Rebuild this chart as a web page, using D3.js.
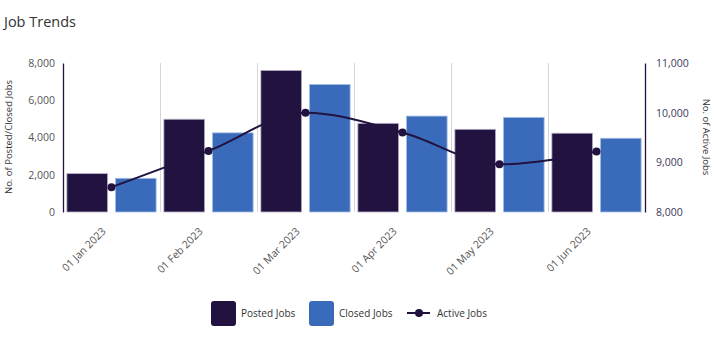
<!DOCTYPE html>
<html><head><meta charset="utf-8">
<script src="https://cdn.jsdelivr.net/npm/d3@7"></script>
<style>body{margin:0;background:#fff;} text{font-family:"Open Sans","Noto Sans",sans-serif;}</style>
</head><body>
<svg id="chart" width="714" height="350"></svg>
<script>
const categories = ["01 Jan 2023","01 Feb 2023","01 Mar 2023","01 Apr 2023","01 May 2023","01 Jun 2023"];
const postedJobs = [2060, 4980, 7600, 4760, 4440, 4230];
const closedJobs = [1810, 4250, 6850, 5150, 5080, 3960];
const activeJobs = [8500, 9230, 10000, 9600, 8960, 9220];
const leftTicks = [0, 2000, 4000, 6000, 8000];
const rightTicks = [8000, 9000, 10000, 11000];

const svg = d3.select("#chart");
const m = {l:63, r:645, t:63, b:212};
const x = d3.scaleBand().domain(categories).range([m.l, m.r]);
const sub = d3.scaleBand().domain(["posted","closed"]).range([0, x.bandwidth()]).paddingInner(0.16).paddingOuter(0.08);
const yL = d3.scaleLinear().domain([0, 8000]).range([m.b, m.t]);
const yR = d3.scaleLinear().domain([8000, 11000]).range([m.b, m.t]);
const cPosted = "#22123F", cClosed = "#3A6BBA";

svg.append("text").attr("x",4).attr("y",27).attr("font-size",14.5).attr("fill","#333").text("Job Trends");

// gridlines between categories
svg.append("g").selectAll("line").data(categories.slice(1)).join("line")
  .attr("x1",d=>x(d)+0.5).attr("x2",d=>x(d)+0.5).attr("y1",m.t).attr("y2",m.b)
  .attr("stroke","#d6d6d6").attr("stroke-width",1);

// bars
const g = svg.append("g");
categories.forEach((c,i)=>{
  g.append("rect").attr("x",x(c)+sub("posted")).attr("width",sub.bandwidth())
    .attr("y",yL(postedJobs[i])).attr("height",yL(0)-yL(postedJobs[i]))
    .attr("fill",cPosted).attr("stroke","#b8aec8").attr("stroke-width",0.8);
  g.append("rect").attr("x",x(c)+sub("closed")).attr("width",sub.bandwidth())
    .attr("y",yL(closedJobs[i])).attr("height",yL(0)-yL(closedJobs[i]))
    .attr("fill",cClosed).attr("stroke","#a9c0e6").attr("stroke-width",0.8);
});

// left axis
const axL = svg.append("g").attr("transform",`translate(${m.l},0)`)
  .call(d3.axisLeft(yL).tickValues(leftTicks).tickFormat(d3.format(",")).tickSize(0).tickPadding(8));
axL.select(".domain").attr("stroke",cPosted).attr("stroke-width",1.3);
axL.selectAll("text").attr("font-size",10.5).attr("fill","#555").attr("font-family","Open Sans, sans-serif");

// right axis
const axR = svg.append("g").attr("transform",`translate(${m.r},0)`)
  .call(d3.axisRight(yR).tickValues(rightTicks).tickFormat(d3.format(",")).tickSize(0).tickPadding(11));
axR.select(".domain").attr("stroke",cPosted).attr("stroke-width",1.3);
axR.selectAll("text").attr("font-size",10.5).attr("fill","#3d3a5c").attr("font-family","Open Sans, sans-serif");

// x axis labels
const axX = svg.append("g").attr("transform",`translate(0,${m.b})`)
  .call(d3.axisBottom(x).tickSize(0).tickPadding(0));
axX.select(".domain").remove();
axX.selectAll("text").attr("font-size",10.5).attr("fill","#555").attr("font-family","Open Sans, sans-serif")
  .attr("text-anchor","end").attr("dy",0)
  .attr("transform","translate(-5,20) rotate(-45)").attr("x",0).attr("y",0);

// axis titles
svg.append("text").attr("transform","translate(12,137) rotate(-90)").attr("text-anchor","middle")
  .attr("font-size",9.5).attr("fill","#333").text("No. of Posted/Closed Jobs");
svg.append("text").attr("transform","translate(703,137) rotate(90)").attr("text-anchor","middle")
  .attr("font-size",9.5).attr("fill","#333").text("No. of Active Jobs");

// line
const line = d3.line().x((d,i)=>x(categories[i])+x.bandwidth()/2).y(d=>yR(d)).curve(d3.curveMonotoneX);
svg.append("path").datum(activeJobs).attr("d",line).attr("fill","none").attr("stroke",cPosted).attr("stroke-width",2);
svg.append("g").selectAll("circle").data(activeJobs).join("circle")
  .attr("cx",(d,i)=>x(categories[i])+x.bandwidth()/2).attr("cy",d=>yR(d)).attr("r",4).attr("fill",cPosted);

// legend
const lg = svg.append("g").attr("font-size",10).attr("fill","#333");
lg.append("rect").attr("x",211).attr("y",301).attr("width",25).attr("height",25).attr("rx",3).attr("fill",cPosted);
lg.append("text").attr("x",241).attr("y",317).text("Posted Jobs");
lg.append("rect").attr("x",309).attr("y",301).attr("width",25).attr("height",25).attr("rx",3).attr("fill",cClosed);
lg.append("text").attr("x",339).attr("y",317).text("Closed Jobs");
lg.append("line").attr("x1",407).attr("x2",430).attr("y1",313).attr("y2",313).attr("stroke",cPosted).attr("stroke-width",2);
lg.append("circle").attr("cx",419).attr("cy",313).attr("r",4).attr("fill",cPosted);
lg.append("text").attr("x",437).attr("y",317).text("Active Jobs");
</script>
</body></html>
